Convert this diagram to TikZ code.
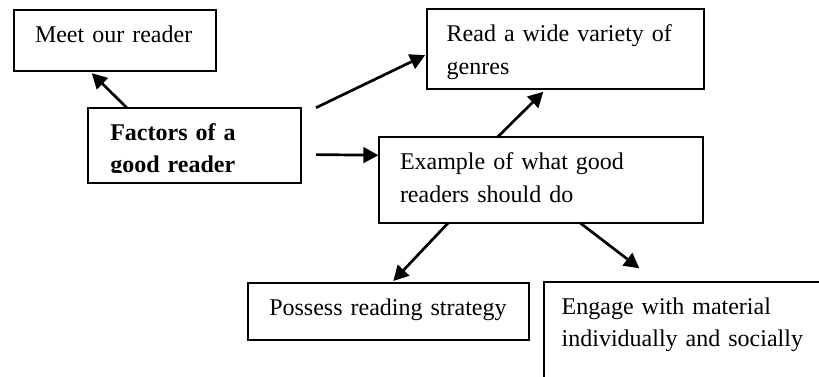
\documentclass[tikz,border=0pt]{standalone}
\usepackage{fontspec}
\setmainfont{Liberation Serif}
\usetikzlibrary{arrows.meta}

\begin{document}
\begin{tikzpicture}[x=0.5pt, y=-0.5pt,
    box/.style={draw, line width=1pt, outer sep=0pt, anchor=north west, align=left,
        font=\fontsize{12}{16.2}\selectfont, inner xsep=10.5pt, inner ysep=6pt, text height=10.25pt},
    link/.style={line width=1.35pt, -{Triangle[length=7.5pt, width=7.8pt]}}]
    \clip (0,0) rectangle (819,376);
    \node [box, text width=79.85pt, text depth=8.2pt] (meet) at (14,9.7) {Meet our reader};
    \begin{scope}
        \clip (80,100) rectangle (310,172.7);
        \node [box, draw=none, inner xsep=11pt, text width=84.35pt, text depth=15.15pt, font=\fontsize{12}{16.2}\selectfont\bfseries]
            (factors) at (88.3,107.7) {Factors of a\\good reader};
    \end{scope}
    \draw [line width=1pt] (factors.south west) rectangle (factors.north east);
    \node [box, inner xsep=10pt, text width=118.65pt, text depth=17.8pt] (read) at (426.7,9.3) {Read a wide variety of\\genres};
    \node [box, text width=141.15pt, text depth=20.5pt] (example) at (379,137.3) {Example of what good\\readers should do};
    \node [box, text width=119.5pt, text depth=6pt] (possess) at (248.3,283.3) {Possess reading strategy};
    \node [box, inner xsep=8.7pt, text width=132.6pt, text depth=40pt] (engage) at (544.3,281.5) {Engage with material\\individually and socially};

    \draw [link] ([xshift=19.2pt]factors.north west) -- ([xshift=38.9pt, yshift=-1.3pt]meet.south west);
    \draw [link] ([xshift=7.5pt]factors.north east) -- ([xshift=-0.8pt, yshift=-2.9pt]read.west);
    \draw [link] ([xshift=7.5pt, yshift=-4.75pt]factors.east) -- ([xshift=-0.3pt, yshift=12.4pt]example.west);
    \draw [link] ([xshift=59.15pt]example.north west) -- ([xshift=58.3pt, yshift=-1.2pt]read.south west);
    \draw [link] ([xshift=34.65pt]example.south west) -- ([xshift=72.5pt, yshift=1.15pt]possess.north west);
    \draw [link] ([xshift=100.5pt]example.south west) -- ([xshift=47.5pt, yshift=6.6pt]engage.north west);
\end{tikzpicture}
\end{document}
